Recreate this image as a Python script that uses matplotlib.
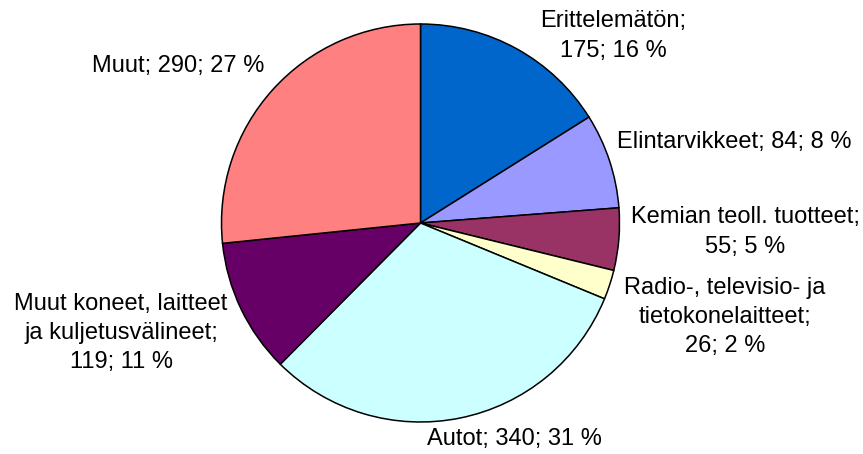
import matplotlib.pyplot as plt

plt.rcParams['font.family'] = ['Liberation Sans', 'DejaVu Sans']

# data
categories = ['Erittelemätön', 'Elintarvikkeet', 'Kemian teoll. tuotteet',
              'Radio-, televisio- ja\ntietokonelaitteet', 'Autot',
              'Muut koneet, laitteet\nja kuljetusvälineet', 'Muut']
values = [175, 84, 55, 26, 340, 119, 290]
colors = ['#0066CC', '#9999FF', '#993366', '#FFFFCC', '#CCFFFF', '#660066', '#FF8080']
# separator between name and value ("\n" = value on its own line)
separators = [';\n', '; ', ';\n', ';\n', '; ', ';\n', '; ']

# label centers in pixels (layout)
label_px = [(613, 36), (734, 142), (745, 232), (725, 317), (514, 439), (121, 333), (178, 66)]

W, H = 863, 454
cx, cy, r = 420.5, 223, 199

fig = plt.figure(figsize=(W / 100, H / 100), dpi=100, facecolor='w')
ax = fig.add_axes([0, 0, 1, 1])

wedges, _ = ax.pie(values, colors=colors, startangle=90, counterclock=False,
                   wedgeprops={'edgecolor': 'black', 'linewidth': 1.1})

total = sum(values)
for c, v, s, (px, py) in zip(categories, values, separators, label_px):
    pct = round(100 * v / total)
    txt = '%s%s%d; %d %%' % (c, s, v, pct)
    ax.text((px - cx) / r, (cy - py) / r, txt, ha='center', va='center',
            multialignment='center', fontsize=17, linespacing=1.42)

ax.set_xlim(-cx / r, (W - cx) / r)
ax.set_ylim(-(H - cy) / r, cy / r)
ax.set_aspect('equal')
ax.axis('off')

fig.savefig('out.png', dpi=100, facecolor='w')
